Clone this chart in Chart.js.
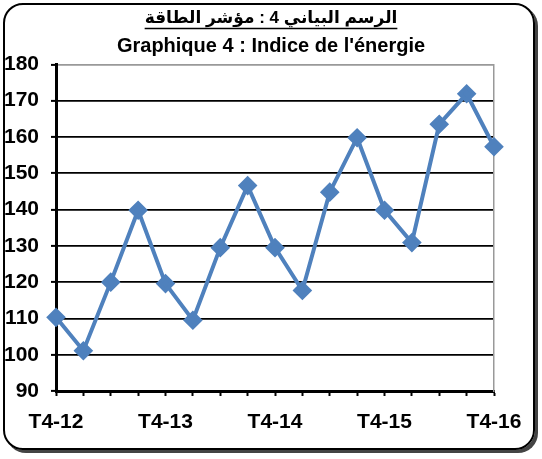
<!DOCTYPE html>
<html>
<head>
<meta charset="utf-8">
<script src="https://cdn.jsdelivr.net/npm/chart.js@4"></script>
<style>
  body { margin: 0; background: #fff; }
  #wrap { position: relative; width: 542px; height: 459px; }
  #frame {
    position: absolute; left: 3px; top: 3px; width: 528px; height: 443px;
    border: 2px solid #000; border-radius: 20px;
    box-shadow: 3px 3px 0 #444;
  }
  #chart { position: absolute; left: 0; top: 0; }
</style>
</head>
<body>
<div id="wrap">
  <div id="frame"></div>
  <canvas id="chart" width="542" height="459"></canvas>
</div>
<script>
// ========== Data ==========
const quarters = [
  'T4-12', 'T1-13', 'T2-13', 'T3-13',
  'T4-13', 'T1-14', 'T2-14', 'T3-14',
  'T4-14', 'T1-15', 'T2-15', 'T3-15',
  'T4-15', 'T1-16', 'T2-16', 'T3-16',
  'T4-16'
];
const energyIndex = [
  110.3, 101.1, 120.0, 139.8,
  119.6, 109.5, 129.5, 146.6,
  129.5, 117.7, 144.8, 159.8,
  139.8, 130.9, 163.5, 171.9,
  157.3
];
const yTicks = [90, 100, 110, 120, 130, 140, 150, 160, 170, 180];

const titleAr = 'الرسم البياني 4 : مؤشر الطاقة';
const titleFr = "Graphique 4 : Indice de l'énergie";

const FONT = "Arial, 'Liberation Sans', 'DejaVu Sans', sans-serif";
const TITLE_AR_SIZE = 17;

// underline under the arabic title
const underlineTitle = {
  id: 'underlineTitle',
  afterDraw(chart) {
    const tb = chart.titleBlock;
    if (!tb) return;
    const ctx = chart.ctx;
    ctx.save();
    ctx.font = 'bold ' + TITLE_AR_SIZE + 'px ' + FONT;
    const w = ctx.measureText(titleAr).width;
    const cx = tb.left + tb.width / 2;
    const y = tb.top + tb.height - 2;
    ctx.strokeStyle = '#000';
    ctx.lineWidth = 1.5;
    ctx.beginPath();
    ctx.moveTo(cx - w / 2, y);
    ctx.lineTo(cx + w / 2, y);
    ctx.stroke();
    ctx.restore();
  }
};

new Chart(document.getElementById('chart'), {
  type: 'line',
  data: {
    labels: quarters,
    datasets: [{
      data: energyIndex,
      borderColor: '#4F81BD',
      backgroundColor: '#4F81BD',
      borderWidth: 4,
      tension: 0,
      pointStyle: 'rectRot',
      pointRadius: 7,
      pointHoverRadius: 7,
      pointBackgroundColor: '#4F81BD',
      pointBorderColor: '#4F81BD'
    }]
  },
  options: {
    responsive: false,
    animation: false,
    layout: { padding: 0 },
    plugins: {
      legend: { display: false },
      tooltip: { enabled: false },
      title: {
        display: true,
        text: titleAr,
        color: '#000',
        font: { family: FONT, size: TITLE_AR_SIZE, weight: 'bold' },
        padding: { top: 8, bottom: 2 }
      },
      subtitle: {
        display: true,
        text: titleFr,
        color: '#000',
        font: { family: FONT, size: 20, weight: 'bold' },
        padding: { top: 4, bottom: 6 }
      }
    },
    scales: {
      x: {
        offset: false,
        border: { color: '#000', width: 3 },
        grid: {
          drawOnChartArea: false,
          drawTicks: true,
          tickLength: 5,
          tickWidth: 2,
          tickColor: '#000'
        },
        ticks: {
          autoSkip: false,
          maxRotation: 0,
          padding: 14,
          color: '#000',
          font: { family: FONT, size: 21, weight: 'bold' },
          callback: function (value, index) {
            return index % 4 === 0 ? quarters[index] : '';
          }
        },
        afterFit: function (scale) { scale.height = 68; }
      },
      y: {
        min: 90,
        max: 180,
        border: { color: '#000', width: 3 },
        grid: {
          color: function (ctx) {
            return ctx.tick && ctx.tick.value === 180 ? '#999' : '#000';
          },
          lineWidth: 1.8,
          drawTicks: true,
          tickLength: 5,
          tickWidth: 2,
          tickColor: '#000'
        },
        afterBuildTicks: function (scale) {
          scale.ticks = yTicks.map(v => ({ value: v }));
        },
        ticks: {
          padding: 12,
          color: '#000',
          font: { family: FONT, size: 21, weight: 'bold' }
        },
        afterFit: function (scale) { scale.width = 56; }
      },
      yRight: {
        position: 'right',
        min: 90,
        max: 180,
        border: { color: '#999', width: 1.5 },
        grid: { drawOnChartArea: false, drawTicks: false },
        ticks: { display: false },
        afterFit: function (scale) { scale.width = 48; }
      }
    }
  },
  plugins: [underlineTitle]
});
</script>
</body>
</html>
